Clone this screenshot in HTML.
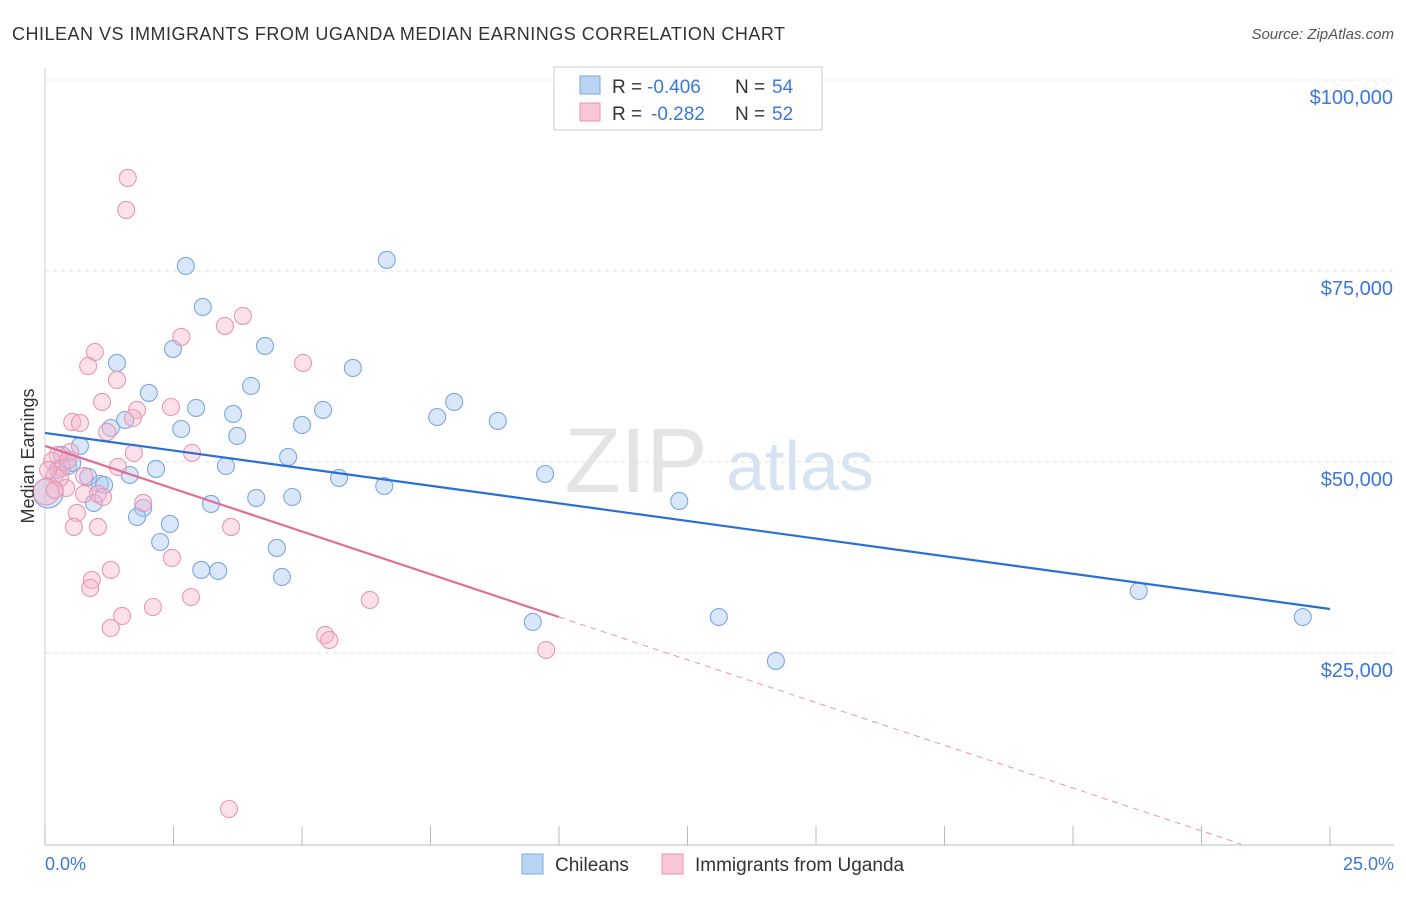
<!DOCTYPE html>
<html><head><meta charset="utf-8"><style>
body{margin:0;background:#fff;font-family:"Liberation Sans",sans-serif;}
svg text{font-family:"Liberation Sans",sans-serif;}
</style></head><body>
<svg width="1406" height="892" xmlns="http://www.w3.org/2000/svg">
<text x="12" y="40" font-size="18" fill="#333" textLength="773">CHILEAN VS IMMIGRANTS FROM UGANDA MEDIAN EARNINGS CORRELATION CHART</text>
<text x="1394" y="39" font-size="15" fill="#555" font-style="italic" text-anchor="end">Source: ZipAtlas.com</text>
<text x="636" y="492" font-size="92" fill="#e4e4e4" font-family="Liberation Serif" text-anchor="middle">ZIP</text>
<text x="800" y="490" font-size="70" fill="#d6e3f3" text-anchor="middle">atlas</text>
<g id="grid"></g><g id="axes"></g><g id="marks"></g><g id="lines"></g>
<text transform="translate(34,456) rotate(-90)" font-size="18" fill="#333" text-anchor="middle">Median Earnings</text>
<text x="45" y="870" font-size="18" fill="#3b78d8">0.0%</text>
<text x="1394" y="870" font-size="18" fill="#3b78d8" text-anchor="end">25.0%</text>
<g>
<rect x="554" y="67" width="268" height="63" fill="#fff" stroke="#ccc"/>
<rect x="580" y="76" width="20" height="18" fill="#b9d3f3" stroke="#7aa8e0"/>
<rect x="580" y="103" width="20" height="18" fill="#f9c6d6" stroke="#e896b4"/>
<text x="612" y="93" font-size="19" fill="#333">R =</text>
<text x="647" y="93" font-size="19" fill="#3b78d8">-0.406</text>
<text x="735" y="93" font-size="19" fill="#333">N =</text>
<text x="772" y="93" font-size="19" fill="#3b78d8">54</text>
<text x="612" y="120" font-size="19" fill="#333">R =</text>
<text x="651" y="120" font-size="19" fill="#3b78d8">-0.282</text>
<text x="735" y="120" font-size="19" fill="#333">N =</text>
<text x="772" y="120" font-size="19" fill="#3b78d8">52</text>
</g>
<g>
<rect x="522" y="854" width="21" height="20" fill="#b9d3f3" stroke="#7aa8e0"/>
<text x="555" y="871" font-size="19" fill="#333">Chileans</text>
<rect x="662" y="854" width="21" height="20" fill="#f9c6d6" stroke="#e896b4"/>
<text x="695" y="871" font-size="19" fill="#333">Immigrants from Uganda</text>
</g>
</svg>
<script>
const yTicks=[25000,50000,75000,100000];
const yTickLabels=["$25,000","$50,000","$75,000","$100,000"];
const blueX=[2.74,6.65,3.07,4.28,2.49,1.40,5.99,4.01,2.02,7.96,2.94,5.41,3.66,7.63,8.81,5.00,1.28,1.56,2.65,3.74,0.68,4.73,0.33,3.52,2.16,0.45,1.65,0.84,5.72,9.73,6.60,1.07,1.15,4.11,4.81,3.23,0.95,12.34,1.91,1.79,2.43,2.24,4.51,3.04,3.37,4.61,21.28,9.49,13.11,24.47,14.22,0.06,0.25,0.53];
const blueY=[75660,76450,70290,65190,64800,62960,62310,59950,59040,57860,57070,56810,56290,55890,55370,54850,54450,55500,54320,53410,52100,50660,50920,49480,49090,49480,48300,48040,47910,48430,46860,47120,46990,45290,45420,44510,44640,44900,43980,42800,41890,39530,38750,35870,35740,34950,33120,29060,29710,29710,23950,45950,48960,49870];
const blueR=[8.5,8.5,8.5,8.5,8.5,8.5,8.5,8.5,8.5,8.5,8.5,8.5,8.5,8.5,8.5,8.5,8.5,8.5,8.5,8.5,8.5,8.5,8.5,8.5,8.5,8.5,8.5,8.5,8.5,8.5,8.5,8.5,8.5,8.5,8.5,8.5,8.5,8.5,8.5,8.5,8.5,8.5,8.5,8.5,8.5,8.5,8.5,8.5,8.5,8.5,8.5,15,8.5,8.5];
const pinkX=[1.61,1.58,3.85,3.50,2.65,0.97,5.02,0.84,1.40,1.11,2.45,1.79,1.71,0.53,0.68,1.21,2.86,1.73,1.42,0.49,0.25,0.14,0.33,0.19,0.76,0.41,1.03,0.76,1.13,1.91,0.62,3.62,0.56,1.03,2.47,1.28,0.91,0.88,2.84,2.10,6.32,1.50,1.28,5.45,5.53,9.75,3.58,0.02,0.29,0.45,0.19,0.06];
const pinkY=[87180,82990,69120,67810,66370,64400,62960,62570,60740,57860,57200,56810,55760,55240,55110,53930,51180,51180,49350,51310,50920,50130,49220,48300,48170,46600,45820,45820,45420,44640,43330,41500,41500,41500,37440,35870,34560,33510,32330,31020,31940,29850,28270,27360,26700,25390,4580,46080,47910,50270,46340,48960];
const pinkR=[8.5,8.5,8.5,8.5,8.5,8.5,8.5,8.5,8.5,8.5,8.5,8.5,8.5,8.5,8.5,8.5,8.5,8.5,8.5,8.5,8.5,8.5,8.5,8.5,8.5,8.5,8.5,8.5,8.5,8.5,8.5,8.5,8.5,8.5,8.5,8.5,8.5,8.5,8.5,8.5,8.5,8.5,8.5,8.5,8.5,8.5,8.5,13,8.5,8.5,8.5,8.5];
const blueTrend=[53800,30760];
const pinkTrend=[52100,29710];
const pinkSolidEnd=10;
const NS="http://www.w3.org/2000/svg";
const X=p=>45+p/25*1285;
const Y=v=>844-v/25000*191;
function mk(t,a,parent){const e=document.createElementNS(NS,t);for(const k in a)e.setAttribute(k,a[k]);document.getElementById(parent).appendChild(e);return e;}
yTicks.forEach((v,i)=>{
 const l=mk('line',{x1:45,y1:Y(v),x2:1394,y2:Y(v),stroke:'#e0e0e0','stroke-dasharray':'4,4'},'grid');
 
 
 const t=mk('text',{x:1393,y:Y(v)+24,'font-size':20,fill:'#3b78d8','text-anchor':'end'},'grid');
 t.textContent=yTickLabels[i];
 
 
});
const ax=mk('line',{x1:45,y1:845,x2:1394,y2:845,stroke:'#bbb'},'axes');


const ay=mk('line',{x1:45,y1:68,x2:45,y2:845,stroke:'#ccc'},'axes');


for(let i=0;i<=10;i++){const t=mk('line',{x1:X(i*2.5),y1:826,x2:X(i*2.5),y2:845,stroke:'#bbb'},'axes');
 
 }
blueX.forEach((x,i)=>{const c=mk('circle',{cx:X(x),cy:Y(blueY[i]),r:blueR[i],fill:'rgba(170,202,242,0.45)',stroke:'#7aa8e0','stroke-width':1.1},'marks');
 
 });
pinkX.forEach((x,i)=>{const c=mk('circle',{cx:X(x),cy:Y(pinkY[i]),r:pinkR[i],fill:'rgba(247,180,202,0.4)',stroke:'#e896b4','stroke-width':1.1},'marks');
 
 });
const bl=mk('line',{x1:X(0),y1:Y(blueTrend[0]),x2:X(25),y2:Y(blueTrend[1]),stroke:'#2a6fd6','stroke-width':2.2},'lines');


const slope=(pinkTrend[1]-pinkTrend[0])/pinkSolidEnd;
const pf=p=>pinkTrend[0]+slope*p;
const p1=mk('line',{x1:X(0),y1:Y(pf(0)),x2:X(pinkSolidEnd),y2:Y(pf(pinkSolidEnd)),stroke:'#e06d96','stroke-width':2.2},'lines');


const zero=-pinkTrend[0]/slope;
const p2=mk('line',{x1:X(pinkSolidEnd),y1:Y(pf(pinkSolidEnd)),x2:X(zero),y2:Y(0),stroke:'#e896b4','stroke-width':1,'stroke-dasharray':'6,5'},'lines');


</script>
</body></html>
